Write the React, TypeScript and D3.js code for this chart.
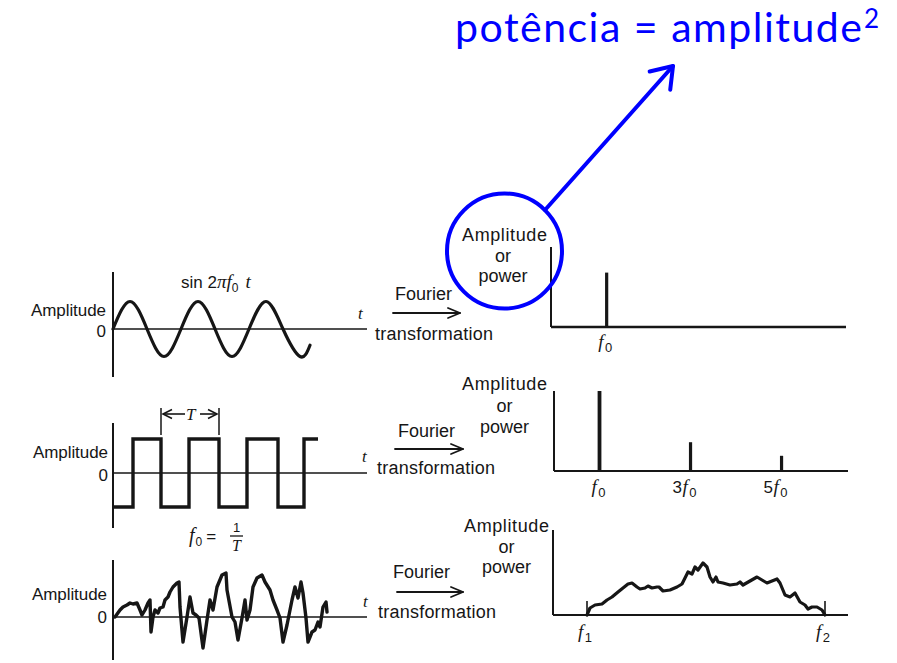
import React from "react";
import * as d3 from "d3";

// ---------- data ----------
// time-domain signals (t in arbitrary time units, 0..254)
const sineT = [0, 17, 34, 51, 68, 85, 102, 119, 136, 153, 170, 187, 197];
const sineV = [0, 1, 0, -1, 0, 1, 0, -1, 0, 1, 0, -1, -0.59];

const squareT = [0, 20, 48, 76, 106, 134, 165, 191, 205];
const squareV = [-1, 1, -1, 1, -1, 1, -1, 1, 1];

const noiseT = [2, 7, 10, 14, 17, 20, 24, 27, 29, 32, 35, 37, 38, 40, 42, 45, 47, 50, 52, 55, 57, 60, 64, 66, 67, 70, 74, 77, 80, 83, 86, 90, 94, 97, 100, 104, 109, 113, 114, 119, 122, 125, 129, 132, 134, 137, 140, 144, 149, 152, 157, 160, 164, 167, 170, 174, 179, 182, 185, 188, 190, 193, 195, 199, 202, 205, 207, 210, 213, 214];
const noiseV = [0, 7, 10, 12, 14, 13, 14, 7, 2, 7, 14, 17, -15, 0, 7, 4, 9, 10, 17, 20, 25, 30, 34, 35, 10, -25, 0, 20, 4, 2, -1, -31, -3, 17, 7, 30, 42, 44, 27, 0, -5, -23, -1, 17, -3, 7, 30, 39, 42, 35, 27, 17, 7, -1, -25, -8, 17, 30, 19, 35, 24, -1, -25, -15, -13, -5, -10, 10, 15, 5];

// spectra
const sineSpecF = [1];
const sineSpecA = [0.68];

const squareSpecF = [1, 3, 5];
const squareSpecA = [1, 0.36, 0.19];
const squareSpecLabels = ["", "3", "5"];

const noiseSpecF = [34, 37, 42, 49, 54, 59, 65, 70, 75, 79, 84, 87, 92, 95, 99, 104, 106, 110, 117, 124, 129, 132, 135, 139, 142, 145, 150, 154, 157, 160, 163, 165, 170, 177, 184, 187, 190, 197, 204, 209, 214, 219, 224, 227, 232, 237, 242, 247, 252, 255, 259, 264, 269, 272];
const noiseSpecA = [0, 7, 10, 11, 15, 18, 23, 27, 31, 32, 28, 26, 27, 29, 27, 28, 28, 24, 25, 28, 31, 37, 43, 41, 48, 45, 52, 48, 38, 33, 38, 33, 32, 30, 31, 33, 30, 34, 38, 35, 32, 34, 36, 32, 20, 18, 22, 13, 10, 6, 8, 8, 5, 0];
const bandF = [34, 272];
const bandLabels = ["1", "2"];

const specAxisLabel = ["Amplitude", "or", "power"];
const titleText = "potência = amplitude";
const titleSup = "2";

// ---------- styling ----------
const INK = "#161616";
const BLUE = "#0000ff";
const SANS = "'Liberation Sans', Arial, Helvetica, sans-serif";
const SERIF = "'Liberation Serif', 'Times New Roman', serif";

type XY = [number, number];

function FourierArrow({ x1, x2, y }: { x1: number; x2: number; y: number }) {
  return (
    <g stroke={INK} strokeWidth={1.8} fill="none" strokeLinecap="round" strokeLinejoin="round">
      <line x1={x1} y1={y} x2={x2} y2={y} />
      <path d={`M${x2 - 12},${y - 5} L${x2},${y} L${x2 - 12},${y + 5}`} />
    </g>
  );
}

function FourierText({ fx, fy, tx, ty, ax1, ax2, ay }: any) {
  return (
    <g>
      <text x={fx} y={fy} fontFamily={SANS} fontSize={18} fill={INK} textLength={57} lengthAdjust="spacing">Fourier</text>
      <FourierArrow x1={ax1} x2={ax2} y={ay} />
      <text x={tx} y={ty} fontFamily={SANS} fontSize={18} fill={INK} textLength={118} lengthAdjust="spacing">transformation</text>
    </g>
  );
}

function LeftLabels({ right, ampBase, zeroBase }: { right: number; ampBase: number; zeroBase: number }) {
  return (
    <g fontFamily={SANS} fontSize={17} fill={INK}>
      <text x={right - 75} y={ampBase} textLength={75} lengthAdjust="spacing">Amplitude</text>
      <text x={right} y={zeroBase} textAnchor="end">0</text>
    </g>
  );
}

function SpecLabel({ cx, y0, dy }: { cx: number; y0: number; dy: number }) {
  return (
    <g fontFamily={SANS} fontSize={18} fill={INK}>
      {specAxisLabel.map((s, i) =>
        i === 0 ? (
          <text key={i} x={cx - 42.5} y={y0} textLength={85} lengthAdjust="spacing">{s}</text>
        ) : (
          <text key={i} x={cx} y={y0 + dy * i} textAnchor="middle">{s}</text>
        )
      )}
    </g>
  );
}

// label like "3f0": number (sans), italic f, subscript
function FLabel({ x, y, pre, sub }: { x: number; y: number; pre: string; sub: string }) {
  return (
    <text x={x - 9} y={y} fill={INK} textAnchor="start">
      {pre && (
        <tspan fontFamily={SANS} fontSize={17} dx={-10}>{pre}</tspan>
      )}
      <tspan fontFamily={SERIF} fontStyle="italic" fontSize={19} dx={pre ? 0.5 : 0}>f</tspan>
      <tspan fontFamily={SANS} fontSize={13} dx={1.5} dy={4}>{sub}</tspan>
    </text>
  );
}

export default function App() {
  // shared time scale for the three signals
  const tx = d3.scaleLinear().domain([0, 254]).range([113, 367]);

  const zero1 = 329, zero2 = 473, zero3 = 617;
  const ySine = d3.scaleLinear().domain([-1, 1]).range([zero1 + 27.5, zero1 - 27.5]);
  const ySq = d3.scaleLinear().domain([-1, 1]).range([zero2 + 34, zero2 - 34]);
  const yNoise = d3.scaleLinear().domain([-35, 35]).range([zero3 + 35, zero3 - 35]);

  const sinePath = d3.line<XY>().x((d) => tx(d[0])).y((d) => ySine(d[1])).curve(d3.curveNatural)(
    sineT.map((t, i) => [t, sineV[i]] as XY)
  )!;
  const sqPath = d3.line<XY>().x((d) => tx(d[0])).y((d) => ySq(d[1])).curve(d3.curveStepAfter)(
    squareT.map((t, i) => [t, squareV[i]] as XY)
  )!;
  const noisePath = d3.line<XY>().x((d) => tx(d[0])).y((d) => yNoise(d[1])).curve(d3.curveLinear)(
    noiseT.map((t, i) => [t, noiseV[i]] as XY)
  )!;

  // spectra scales
  const fx1 = d3.scaleLinear().domain([0, 5.3]).range([551, 846]);
  const fy1 = d3.scaleLinear().domain([0, 1]).range([327, 247]);
  const fx2 = d3.scaleLinear().domain([0, 6.46]).range([554, 848]);
  const fy2 = d3.scaleLinear().domain([0, 1]).range([471, 391]);
  const fx3 = d3.scaleLinear().domain([0, 295]).range([553, 848]);
  const fy3 = d3.scaleLinear().domain([0, 85]).range([615, 530]);

  const specPath = d3.line<XY>().x((d) => fx3(d[0])).y((d) => fy3(d[1])).curve(d3.curveLinear)(
    noiseSpecF.map((f, i) => [f, noiseSpecA[i]] as XY)
  )!;

  // blue annotation
  const circle = { cx: 504.5, cy: 251, r: 57.5 };
  const arrowStart: XY = [545, 210];
  const arrowTip: XY = [673, 66];
  const dx = arrowStart[0] - arrowTip[0];
  const dy = arrowStart[1] - arrowTip[1];
  const len = Math.hypot(dx, dy);
  const ux = dx / len, uy = dy / len;
  const rot = (a: number): XY => {
    const c = Math.cos(a), s = Math.sin(a);
    return [arrowTip[0] + 24 * (ux * c - uy * s), arrowTip[1] + 24 * (ux * s + uy * c)];
  };
  const b1 = rot((35 * Math.PI) / 180);
  const b2 = rot((-35 * Math.PI) / 180);

  return (
    <svg width={897} height={663} style={{ position: "absolute", left: 0, top: 0, background: "#fff" }}>
      <rect x={0} y={0} width={897} height={663} fill="#fff" />

      {/* ---------- title ---------- */}
      <text x={455} y={42} fontFamily="Lato, 'Open Sans', sans-serif" fontSize={41} fill={BLUE} textLength={407} lengthAdjust="spacing">
        {titleText}
      </text>
      <text x={864} y={28} fontFamily="Lato, 'Open Sans', sans-serif" fontSize={26} fill={BLUE}>{titleSup}</text>

      {/* ---------- row 1 : sine ---------- */}
      <g stroke={INK} fill="none">
        <line x1={113} y1={272} x2={113} y2={377} strokeWidth={2} />
        <line x1={tx(0)} y1={zero1} x2={tx(254)} y2={zero1} strokeWidth={1.6} />
        <path d={sinePath} strokeWidth={3.2} strokeLinecap="round" />
      </g>
      <LeftLabels right={106} ampBase={316} zeroBase={337} />
      <text x={181} y={288} fill={INK}>
        <tspan fontFamily={SANS} fontSize={17}>sin 2</tspan>
        <tspan fontFamily={SERIF} fontStyle="italic" fontSize={19}>πf</tspan>
        <tspan fontFamily={SANS} fontSize={12} dy={4}>0</tspan>
        <tspan fontFamily={SERIF} fontStyle="italic" fontSize={19} dx={7} dy={-4}>t</tspan>
      </text>
      <text x={358} y={319} fontFamily={SERIF} fontStyle="italic" fontSize={17} fill={INK}>t</text>
      <FourierText fx={395} fy={300} tx={375} ty={340} ax1={393} ax2={460} ay={313} />

      {/* spectrum 1 */}
      <g stroke={INK} fill="none">
        <line x1={fx1(0)} y1={fy1(1)} x2={fx1(0)} y2={fy1(0)} strokeWidth={2} />
        <line x1={fx1(0)} y1={fy1(0)} x2={fx1(5.3)} y2={fy1(0)} strokeWidth={2.4} />
        {sineSpecF.map((f, i) => (
          <line key={i} x1={fx1(f)} y1={fy1(0)} x2={fx1(f)} y2={fy1(sineSpecA[i])} strokeWidth={3.2} />
        ))}
      </g>
      {sineSpecF.map((f, i) => (
        <FLabel key={i} x={fx1(f) + 0.5} y={348} pre="" sub="0" />
      ))}

      {/* ---------- row 2 : square ---------- */}
      <g stroke={INK} fill="none">
        <line x1={113} y1={423} x2={113} y2={528} strokeWidth={2} />
        <line x1={tx(0)} y1={zero2} x2={tx(254)} y2={zero2} strokeWidth={1.6} />
        <path d={sqPath} strokeWidth={3.4} strokeLinejoin="miter" />
        {/* period marker */}
        <line x1={tx(48)} y1={408} x2={tx(48)} y2={435} strokeWidth={1.5} />
        <line x1={tx(106)} y1={408} x2={tx(106)} y2={435} strokeWidth={1.5} />
        <line x1={tx(48) + 2} y1={414} x2={185} y2={414} strokeWidth={1.6} />
        <line x1={200} y1={414} x2={tx(106) - 2} y2={414} strokeWidth={1.6} />
        <path d={`M${tx(48) + 11},${409.5} L${tx(48) + 2},414 L${tx(48) + 11},${418.5}`} strokeWidth={1.6} />
        <path d={`M${tx(106) - 11},${409.5} L${tx(106) - 2},414 L${tx(106) - 11},${418.5}`} strokeWidth={1.6} />
        <line x1={230} y1={536} x2={243} y2={536} strokeWidth={1.3} />
      </g>
      <g fill={INK}>
        <text x={186} y={420} fontFamily={SERIF} fontStyle="italic" fontSize={17}>T</text>
        <text x={189} y={542}>
          <tspan fontFamily={SERIF} fontStyle="italic" fontSize={20}>f</tspan>
          <tspan fontFamily={SANS} fontSize={12} dx={1} dy={4}>0</tspan>
          <tspan fontFamily={SANS} fontSize={17} dx={4} dy={-4}>=</tspan>
        </text>
        <text x={236.5} y={532} fontFamily={SANS} fontSize={13} textAnchor="middle">1</text>
        <text x={236.5} y={551} fontFamily={SERIF} fontStyle="italic" fontSize={16} textAnchor="middle">T</text>
        <text x={362} y={462} fontFamily={SERIF} fontStyle="italic" fontSize={17}>t</text>
      </g>
      <LeftLabels right={108} ampBase={458} zeroBase={481} />
      <FourierText fx={398} fy={437} tx={377} ty={474} ax1={395} ax2={463} ay={449} />

      {/* spectrum 2 */}
      <SpecLabel cx={504.5} y0={390} dy={21.5} />
      <g stroke={INK} fill="none">
        <line x1={fx2(0)} y1={fy2(1)} x2={fx2(0)} y2={fy2(0)} strokeWidth={2} />
        <line x1={fx2(0)} y1={fy2(0)} x2={fx2(6.46)} y2={fy2(0)} strokeWidth={2.2} />
        {squareSpecF.map((f, i) => (
          <line key={i} x1={fx2(f)} y1={fy2(0)} x2={fx2(f)} y2={fy2(squareSpecA[i])} strokeWidth={i === 0 ? 3.8 : 3.2} />
        ))}
      </g>
      {squareSpecF.map((f, i) => (
        <FLabel key={i} x={fx2(f) + 1} y={493} pre={squareSpecLabels[i]} sub="0" />
      ))}

      {/* ---------- row 3 : noise ---------- */}
      <g stroke={INK} fill="none">
        <line x1={113} y1={560} x2={113} y2={660} strokeWidth={2} />
        <line x1={tx(0)} y1={zero3} x2={tx(254)} y2={zero3} strokeWidth={1.6} />
        <path d={noisePath} strokeWidth={3.4} strokeLinejoin="round" strokeLinecap="round" />
      </g>
      <LeftLabels right={107} ampBase={600} zeroBase={623} />
      <text x={363} y={607} fontFamily={SERIF} fontStyle="italic" fontSize={17} fill={INK}>t</text>
      <FourierText fx={393} fy={578} tx={378} ty={618} ax1={397} ax2={463} ay={592} />

      {/* spectrum 3 */}
      <SpecLabel cx={506.5} y0={532} dy={20.5} />
      <g stroke={INK} fill="none">
        <line x1={fx3(0)} y1={fy3(85)} x2={fx3(0)} y2={fy3(0)} strokeWidth={2} />
        <line x1={fx3(0)} y1={fy3(0)} x2={fx3(295)} y2={fy3(0)} strokeWidth={2.2} />
        {bandF.map((f, i) => (
          <line key={i} x1={fx3(f)} y1={fy3(0)} x2={fx3(f)} y2={fy3(14)} strokeWidth={1.6} />
        ))}
        <path d={specPath} strokeWidth={3.2} strokeLinejoin="round" strokeLinecap="round" />
      </g>
      {bandF.map((f, i) => (
        <FLabel key={i} x={fx3(f)} y={638} pre="" sub={bandLabels[i]} />
      ))}

      {/* ---------- blue annotation ---------- */}
      <g fontFamily={SANS} fontSize={18} fill={INK}>
        <text x={circle.cx - 42.5} y={241} textLength={85} lengthAdjust="spacing">{specAxisLabel[0]}</text>
        <text x={circle.cx - 1.5} y={262} textAnchor="middle">{specAxisLabel[1]}</text>
        <text x={circle.cx - 1.5} y={282} textAnchor="middle">{specAxisLabel[2]}</text>
      </g>
      <g stroke={BLUE} fill="none" strokeWidth={4} strokeLinecap="round" strokeLinejoin="round">
        <circle cx={circle.cx} cy={circle.cy} r={circle.r} />
        <line x1={arrowStart[0]} y1={arrowStart[1]} x2={arrowTip[0]} y2={arrowTip[1]} />
        <path d={`M${b1[0]},${b1[1]} L${arrowTip[0]},${arrowTip[1]} L${b2[0]},${b2[1]}`} />
      </g>
    </svg>
  );
}
